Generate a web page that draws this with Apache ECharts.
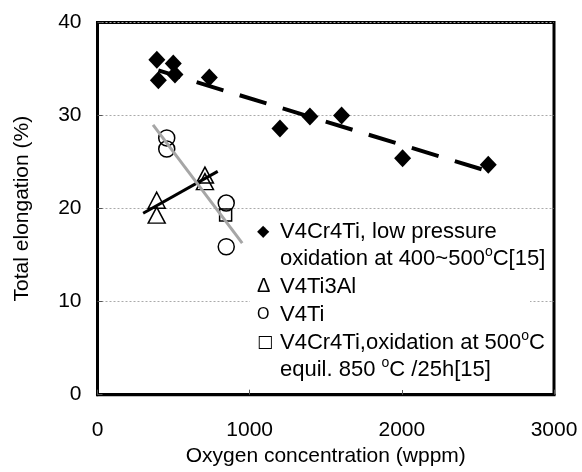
<!DOCTYPE html>
<html>
<head>
<meta charset="utf-8">
<script src="https://cdn.jsdelivr.net/npm/echarts@6/dist/echarts.min.js"></script>
<style>
html,body{margin:0;padding:0;background:#fff;}
#chart{width:582px;height:472px;}
</style>
</head>
<body>
<div id="chart"></div>
<script>
// ---- data ----
const xTicks = [0, 1000, 2000, 3000];
const yTicks = [0, 10, 20, 30, 40];

// V4Cr4Ti, low pressure oxidation at 400~500°C [15]
const v4cr4tiX = [390, 498, 400, 509, 735, 1199, 1396, 1604, 2005, 2568];
const v4cr4tiY = [36.0, 35.6, 33.8, 34.4, 34.1, 28.6, 29.9, 30.0, 25.4, 24.7];
// V4Ti3Al
const v4ti3alX = [389, 389, 706, 706];
const v4ti3alY = [20.9, 19.3, 23.6, 22.9];
// V4Ti
const v4tiX = [455, 455, 846, 846];
const v4tiY = [27.6, 26.4, 20.6, 15.9];
// V4Cr4Ti, oxidation at 500°C, equil. 850°C/25h [15]
const v4cr4tiEqX = [842];
const v4cr4tiEqY = [19.3];

// trend lines
const trendCrX = [400, 2560];
const trendCrY = [34.85, 24.05];
const trendAlX = [300, 790];
const trendAlY = [19.5, 24.0];
const trendTiX = [365, 951];
const trendTiY = [29.0, 16.3];

const names = [
  'V4Cr4Ti, low pressure oxidation at 400~500oC[15]',
  'V4Ti3Al',
  'V4Ti',
  'V4Cr4Ti,oxidation at 500oC equil. 850oC /25h[15]'
];
const legendText = {};
legendText[names[0]] = '{d|◆}V4Cr4Ti, low pressure\n{p| }oxidation at 400~500{s|o}C[15]';
legendText[names[1]] = '{t|Δ}V4Ti3Al';
legendText[names[2]] = '{c|O}V4Ti';
legendText[names[3]] = '{q|□}V4Cr4Ti,oxidation at 500{s|o}C\n{p| }equil. 850 {s|o}C /25h[15]';

const zip = (xs, ys) => xs.map((x, i) => [x, ys[i]]);

const FONT = 'Liberation Sans';
const chart = echarts.init(document.getElementById('chart'), null, {renderer: 'canvas'});

const hollow = {color: 'rgba(255,255,255,0)', borderColor: '#000', borderWidth: 1.5, opacity: 1};

chart.setOption({
  animation: false,
  backgroundColor: '#fff',
  textStyle: {fontFamily: FONT},
  grid: {left: 97.5, right: 28, top: 22.5, bottom: 77.3, show: true,
         borderColor: '#000', borderWidth: 3, backgroundColor: 'transparent'},
  graphic: [{
    type: 'rect', left: 250, top: 214, z: 3, silent: true,
    shape: {width: 280, height: 176}, style: {fill: '#fff'}
  }],
  legend: {
    orient: 'vertical', left: 252, top: 218, z: 5,
    itemWidth: 0, itemHeight: 0, itemGap: 1, icon: 'none',
    padding: 0, selectedMode: false,
    data: names,
    formatter: n => legendText[n],
    textStyle: {
      fontFamily: FONT, fontSize: 22, lineHeight: 27, color: '#000',
      rich: {
        d: {fontFamily: 'DejaVu Sans', fontSize: 16, width: 23, lineHeight: 27, color: '#000'},
        t: {fontFamily: FONT, fontSize: 20, width: 23, lineHeight: 27, color: '#000'},
        c: {fontFamily: FONT, fontSize: 16, width: 23, lineHeight: 27, color: '#000'},
        q: {fontFamily: 'DejaVu Sans', fontSize: 17, width: 23, lineHeight: 27, color: '#000'},
        p: {fontFamily: FONT, fontSize: 22, width: 23, lineHeight: 27},
        s: {fontFamily: FONT, fontSize: 14, lineHeight: 27, padding: [0, 0, 12, 0], color: '#000'}
      }
    }
  },
  xAxis: {
    type: 'value', min: xTicks[0], max: xTicks[xTicks.length - 1], interval: 1000,
    name: 'Oxygen concentration (wppm)', nameLocation: 'middle', nameGap: 51,
    nameTextStyle: {fontFamily: FONT, fontSize: 21, color: '#000'},
    axisLine: {show: true, lineStyle: {color: '#000', width: 3}},
    axisTick: {show: true, inside: true, length: 5, lineStyle: {color: '#555', width: 1}},
    axisLabel: {fontFamily: FONT, fontSize: 21, color: '#000', margin: 25,
                formatter: v => xTicks.indexOf(v) >= 0 ? String(v) : ''},
    splitLine: {show: false}
  },
  yAxis: {
    type: 'value', min: yTicks[0], max: yTicks[yTicks.length - 1], interval: 10,
    name: 'Total elongation (%)', nameLocation: 'middle', nameGap: 65, nameRotate: 90,
    nameTextStyle: {fontFamily: FONT, fontSize: 21, color: '#000'},
    axisLine: {show: true, lineStyle: {color: '#000', width: 3}},
    axisTick: {show: true, inside: true, length: 5, lineStyle: {color: '#555', width: 1}},
    axisLabel: {fontFamily: FONT, fontSize: 21, color: '#000', margin: 16,
                formatter: v => yTicks.indexOf(v) >= 0 ? String(v) : ''},
    splitLine: {show: true, lineStyle: {color: '#aaa', width: 1, type: [2, 2]}}
  },
  series: [
    {name: names[0], type: 'scatter', data: zip(v4cr4tiX, v4cr4tiY), symbol: 'diamond',
     symbolSize: [17, 18], itemStyle: {color: '#000', opacity: 1}, z: 3},
    {name: names[1], type: 'scatter', data: zip(v4ti3alX, v4ti3alY), symbol: 'triangle',
     symbolSize: [17, 16], itemStyle: hollow, z: 3},
    {name: names[2], type: 'scatter', data: zip(v4tiX, v4tiY), symbol: 'circle',
     symbolSize: 16, itemStyle: hollow, z: 3},
    {name: names[3], type: 'scatter', data: zip(v4cr4tiEqX, v4cr4tiEqY), symbol: 'rect',
     symbolSize: 12, itemStyle: hollow, z: 3},
    {name: 'trend V4Cr4Ti', type: 'line', data: zip(trendCrX, trendCrY), symbol: 'none', silent: true,
     lineStyle: {color: '#000', width: 4, type: [28, 17], dashOffset: 5}, z: 4},
    {name: 'trend V4Ti3Al', type: 'line', data: zip(trendAlX, trendAlY), symbol: 'none', silent: true,
     lineStyle: {color: '#000', width: 3}, z: 4},
    {name: 'trend V4Ti', type: 'line', data: zip(trendTiX, trendTiY), symbol: 'none', silent: true,
     lineStyle: {color: '#a6a6a6', width: 3}, z: 4}
  ]
});
</script>
</body>
</html>
